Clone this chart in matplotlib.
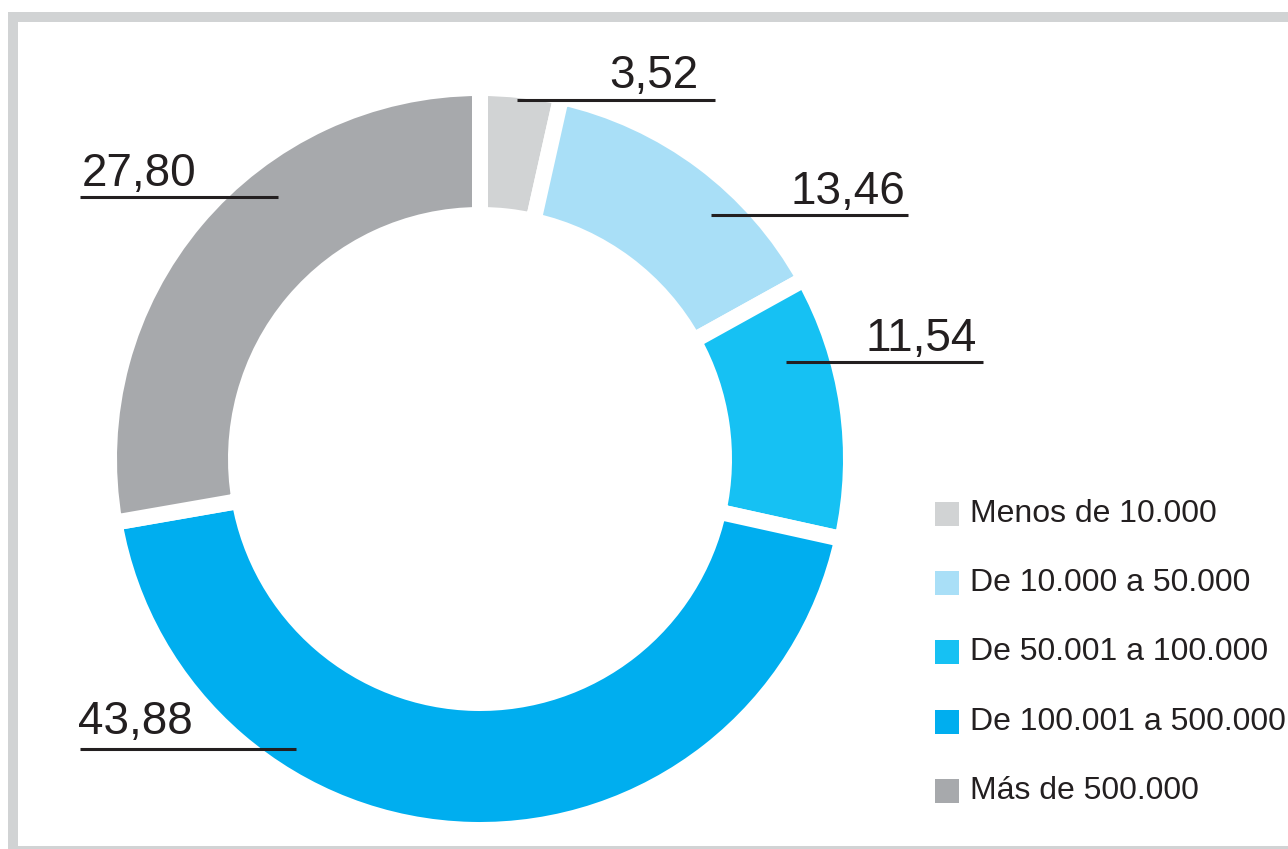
import matplotlib.pyplot as plt
from matplotlib.patches import Rectangle

# data
categories = ['Menos de 10.000', 'De 10.000 a 50.000', 'De 50.001 a 100.000',
              'De 100.001 a 500.000', 'Más de 500.000']
values = [3.52, 13.46, 11.54, 43.88, 27.80]
value_labels = ['3,52', '13,46', '11,54', '43,88', '27,80']
colors = ['#d1d3d4', '#a9dff7', '#16c1f3', '#00aeef', '#a7a9ac']

# layout (pixel coords, y measured from the bottom)
W, H = 1288, 849
label_xy = [(698, H - 88), (905, H - 204), (977, H - 351), (78, H - 734), (82, H - 186)]
label_ha = ['right', 'right', 'right', 'left', 'left']
leader = [(517, 715, H - 100), (711, 908, H - 215), (786, 983, H - 362),
          (80, 296, H - 749), (80, 278, H - 197)]
ink = '#231f20'
plt.rcParams['font.family'] = ['Liberation Sans', 'DejaVu Sans']

fig = plt.figure(figsize=(W / 100, H / 100), dpi=100)
ax = fig.add_axes([0, 0, 1, 1])

gap = 16  # px of white between wedges
ax.pie(values, colors=colors, startangle=90, counterclock=False,
       center=(480, H - 459), radius=363 + gap / 2,
       wedgeprops=dict(width=127, edgecolor='white', linewidth=gap * 0.72))

for (x, y), t, ha in zip(label_xy, value_labels, label_ha):
    ax.text(x, y, t, ha=ha, va='baseline', fontsize=33, color=ink)
for x0, x1, y in leader:
    ax.plot([x0, x1], [y, y], color=ink, lw=2.2, solid_capstyle='butt')

# legend drawn by hand
for i, (c, name) in enumerate(zip(colors, categories)):
    yc = H - (514 + 69.2 * i)
    ax.add_patch(Rectangle((935, yc - 12), 24, 24, color=c, lw=0))
    ax.text(970, yc, name, ha='left', va='center', fontsize=23, color=ink)

# grey frame
frame = '#d1d3d4'
ax.add_patch(Rectangle((8, H - 22), W - 8, 10, color=frame, lw=0))
ax.add_patch(Rectangle((8, 0), 10, H - 12, color=frame, lw=0))
ax.add_patch(Rectangle((8, 0), W - 8, 3, color=frame, lw=0))

ax.set_xlim(0, W)
ax.set_ylim(0, H)
ax.set_aspect('equal')
ax.axis('off')

fig.savefig('out.png', dpi=100)
